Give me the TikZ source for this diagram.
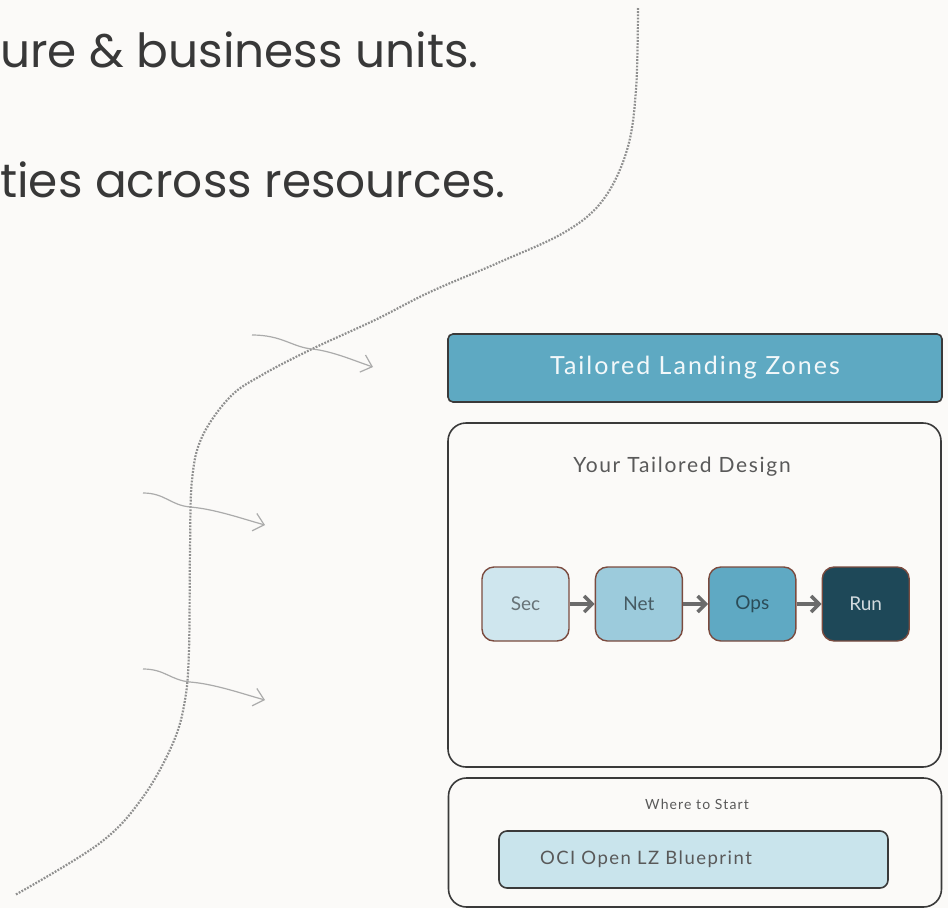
\documentclass[tikz,border=0pt]{standalone}
\usepackage{fontspec}
\setmainfont{Lato}
\newfontfamily\widefont[LetterSpace=8]{Lato}
\newfontfamily\leadfont{Poppins}
\usetikzlibrary{arrows.meta, positioning, calc}
\definecolor{paper}{HTML}{FBFAF8}
\definecolor{ink}{HTML}{3A3A3A}
\definecolor{lzblue}{HTML}{5EA9C2}
\definecolor{secfill}{HTML}{CFE6EE}
\definecolor{netfill}{HTML}{9CCBDC}
\definecolor{opsfill}{HTML}{5FA9C3}
\definecolor{runfill}{HTML}{1E4858}
\definecolor{bpfill}{HTML}{C9E4EC}
\definecolor{rim}{HTML}{7B4B3F}
\definecolor{hint}{HTML}{ABABAB}
\definecolor{dots}{HTML}{8F8F8F}
\definecolor{shaft}{HTML}{6B6B6B}
\tikzset{
    panel/.style={draw=ink, line width=1.6pt, rounded corners=18pt, minimum width=493pt},
    banner/.style={draw=ink, fill=lzblue, line width=1.6pt, rounded corners=5pt,
        minimum width=494pt, minimum height=68pt, text=white!92!lzblue,
        font=\widefont\fontsize{25}{30}\selectfont},
    heading/.style={text=black!65, inner sep=0pt},
    stage/.style={draw=rim, line width=1.4pt, rounded corners=12pt, minimum width=87pt,
        minimum height=74pt, font=\fontsize{19}{23}\selectfont},
    flow/.style={draw=hint, line width=1.2pt, -{Straight Barb[length=10pt,width=18pt]}},
    trail/.style={draw=dots, line width=2.2pt, dash pattern=on 1.8pt off 1.4pt},
    push/.style={draw=shaft, line width=3.5pt, -{Straight Barb[length=8pt,width=16pt]}},
    lead/.style={anchor=base west, inner sep=0pt, text=black!78, font=\leadfont\fontsize{47}{56}\selectfont},
}

\begin{document}
\begin{tikzpicture}[x=1pt, y=-1pt]
    \tikzset{node distance=25pt}

    \fill[paper] (0,0) rectangle (948,908);
    \useasboundingbox (0,0) rectangle (948,908);

    % text on the left
    \node[lead] (lineA) at (0,67) {ure \& business units.};
    \node[lead] (lineB) at (0,197) {ties across resources.};

    % the dotted trail
    \draw[trail] plot[smooth, tension=0.6] coordinates {(638,8) (636,90) (627,150) (603,200)
        (565,232) (500,262) (430,292) (375,320) (312,349) (262,375) (230,397) (202,437)
        (192,480) (190,550) (189,650) (185,700) (173,743) (143,797) (100,843) (15,895)};

    % pointers
    \coordinate (a1s) at (252,335);
    \coordinate (a1m) at (312,349);
    \coordinate (a1e) at (373,367);
    \coordinate (a2s) at (143,493);
    \coordinate (a2m) at (190,507);
    \coordinate (a2e) at (265,525);
    \coordinate (a3s) at (143,669);
    \coordinate (a3m) at (190,682);
    \coordinate (a3e) at (265,700);

    \draw[flow] (a1s) .. controls +(30,0) and +(-20,-2) .. (a1m) .. controls +(20,2) and +(-18,-6) .. (a1e);
    \draw[flow] (a2s) .. controls +(22,0) and +(-20,-2) .. (a2m) .. controls +(25,2) and +(-22,-6) .. (a2e);
    \draw[flow] (a3s) .. controls +(22,0) and +(-20,-2) .. (a3m) .. controls +(25,2) and +(-22,-6) .. (a3e);

    % right column
    \node[banner] (zones) at (695,368) {Tailored Landing Zones};

    \node[panel, minimum height=344pt] (design) at (694.5,595) {};
    \node[heading, font=\widefont\fontsize{21}{25}\selectfont] (designtitle) at (682,467) {Your Tailored Design};

    \node[stage, fill=secfill, text=black!50!secfill] (sec) at (525.5,604) {Sec};
    \node[stage, fill=netfill, text=black!55!netfill, right=of sec] (net) {Net};
    \node[stage, fill=opsfill, text=black!55!opsfill, right=of net] (ops) {Ops};
    \node[stage, fill=runfill, text=white!80!runfill, right=of ops] (run) {Run};

    \draw[push] (sec) -- (net);
    \draw[push] (net) -- (ops);
    \draw[push] (ops) -- (run);

    \node[panel, minimum height=129pt] (start) at (695,842.5) {};
    \node[heading, font=\widefont\fontsize{14}{17}\selectfont] (starttitle) at (697,804) {Where to Start};
    \node[draw=ink, fill=bpfill, line width=1.6pt, rounded corners=8pt, minimum height=57pt,
        text width=307pt, inner xsep=41pt, align=left, text=black!65,
        font=\widefont\fontsize{18.5}{22}\selectfont] (blueprint) at (693.5,859.5) {OCI Open LZ Blueprint};
\end{tikzpicture}
\end{document}
